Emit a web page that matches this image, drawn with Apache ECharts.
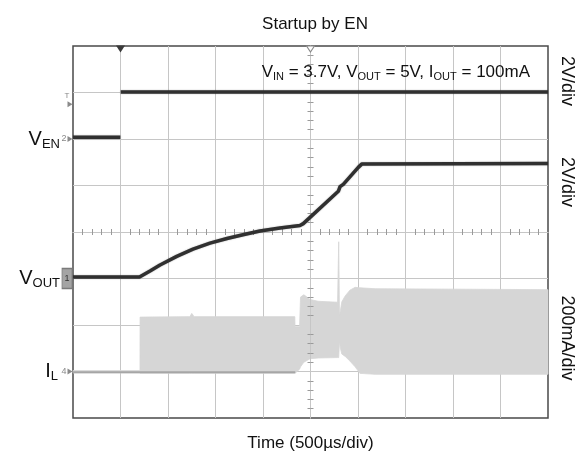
<!DOCTYPE html>
<html>
<head>
<meta charset="utf-8">
<script src="https://cdn.jsdelivr.net/npm/echarts@6/dist/echarts.min.js"></script>
<style>
  html, body { margin: 0; padding: 0; background: #ffffff; }
  #chart { width: 587px; height: 465px; }
</style>
</head>
<body>
<div id="chart"></div>
<script>
// Scope capture: 10 horizontal divisions of 500 µs, 8 vertical divisions.
const timeMin = 0;
const timeMax = 5000;      // µs
const timeDiv = 500;       // µs per division

// EN channel (2 V/div)
const enTime  = [0, 498, 499, 503, 5000];
const enVolts = [0.08, 0.08, null, 2.02, 2.02];

// VOUT channel (2 V/div)
const voutTime  = [0, 700, 811, 916, 1092, 1263, 1442, 1621, 1789, 1968, 2179, 2389, 2424, 2793, 2811, 2845, 3003, 3039, 5000];
const voutVolts = [0.06, 0.06, 0.32, 0.58, 0.95, 1.26, 1.52, 1.72, 1.88, 2.04, 2.17, 2.28, 2.36, 3.75, 3.95, 4.05, 4.78, 4.92, 4.95];

// Inductor current envelope (200 mA/div)
const ilTime  = [0, 705, 706, 1230, 1250, 1275, 2335, 2337, 2385, 2395, 2430, 2495, 2580, 2785, 2797, 2805, 2815, 2830, 2865, 2915, 2970, 3020, 3180, 5000];
const ilUpper = [4, 4, 234, 236, 250, 236, 236, 193, 193, 320, 330, 310, 302, 298, 558, 240, 262, 300, 325, 350, 362, 360, 356, 352];
const ilLower = [-6, -6, -8, -8, -8, -8, -8, -8, 10, 20, 40, 55, 58, 60, 60, 130, 100, 75, 65, 45, 20, -8, -12, -12];

// Inductor current baseline trace before switching settles
const ilBaseTime = [0, 2340];
const ilBaseVal  = [-3, -3];

// Channel scales: [min, max] of each trace axis, offset so grounds sit on their own division
const enRange   = [-12, 4];
const voutRange = [-6, 10];
const ilRange   = [-200, 1400];

const FONT = '"Liberation Sans", Arial, sans-serif';
const gridColor = '#c6c6c6';
const traceColor = '#303030';
const bandColor = '#d6d6d6';

const pairs = (xs, ys) => xs.map((x, i) => [x, ys[i] === null ? '-' : ys[i]]);

const subRich = (main, sub) => ({
  v: { fontSize: main, fontFamily: FONT, fontWeight: 'normal', color: '#111', lineHeight: main + 3, verticalAlign: 'middle' },
  s: { fontSize: sub, fontFamily: FONT, fontWeight: 'normal', color: '#111', lineHeight: sub, verticalAlign: 'bottom' },
  t: { fontSize: main, fontFamily: FONT, fontWeight: 'normal', color: '#111', lineHeight: main + 3, verticalAlign: 'middle' }
});

const nameLabel = (text, dist) => ({
  coord: [timeMin, 0],
  symbol: 'circle',
  symbolSize: 0,
  label: {
    show: true, position: 'left', distance: dist,
    formatter: text, rich: subRich(20, 13)
  }
});

const chMarker = (num, boxed) => ({
  coord: [timeMin, 0],
  symbol: boxed ? 'rect' : 'triangle',
  symbolRotate: boxed ? 0 : -90,
  symbolSize: boxed ? [10, 20] : [6, 5],
  symbolOffset: boxed ? [-6, 0] : [-3, 0],
  itemStyle: boxed ? { color: '#a4a4a4', borderColor: '#7a7a7a', borderWidth: 1 } : { color: '#8a8a8a' },
  label: {
    show: true, position: boxed ? 'inside' : 'left', distance: 1,
    formatter: String(num), fontSize: 9, fontFamily: FONT, color: boxed ? '#333' : '#888'
  }
});

const chart = echarts.init(document.getElementById('chart'), null, { renderer: 'canvas' });

// Graticule centre lines carry fine sub-division ticks on both sides
const centerX = (inside) => ({
  type: 'value', min: -5, max: 5, interval: 1, z: 4,
  axisLine: { show: true, onZero: true, onZeroAxisIndex: 0, lineStyle: { color: gridColor, width: 1 } },
  axisTick: { show: false, inside: inside },
  minorTick: { show: true, splitNumber: 5, length: 3, lineStyle: { color: '#9a9a9a', width: 1 } },
  axisLabel: { show: false },
  splitLine: { show: false }
});
const centerY = (inside) => ({
  type: 'value', min: -4, max: 4, interval: 1, z: 4,
  axisLine: { show: true, onZero: true, onZeroAxisIndex: 1, lineStyle: { color: gridColor, width: 1 } },
  axisTick: { show: false, inside: inside },
  minorTick: { show: true, splitNumber: 5, length: 3, lineStyle: { color: '#9a9a9a', width: 1 } },
  axisLabel: { show: false },
  splitLine: { show: false }
});

const traceStyle = { width: 3.5, color: traceColor, shadowColor: 'rgba(0,0,0,0.35)', shadowBlur: 1.5 };

chart.setOption({
  animation: false,
  backgroundColor: '#ffffff',
  title: [
    {
      text: 'Startup by EN',
      left: 310, top: 11, textAlign: 'center',
      textStyle: { fontSize: 17, fontWeight: 'normal', fontFamily: FONT, color: '#111' }
    },
    {
      text: '{v|V}{s|IN}{t| = 3.7V, V}{s|OUT}{t| = 5V, I}{s|OUT}{t| = 100mA}',
      right: 52, top: 57,
      textStyle: { fontWeight: 'normal', rich: subRich(17, 11) }
    }
  ],
  grid: {
    left: 73, top: 46, width: 475, height: 372,
    show: true, borderColor: '#4a4a4a', borderWidth: 1.5,
    backgroundColor: 'transparent'
  },
  xAxis: [
    {
      type: 'value', min: timeMin, max: timeMax, interval: timeDiv,
      axisLine: { show: false, onZero: false },
      axisTick: { show: false },
      axisLabel: { show: false },
      splitLine: { show: true, showMinLine: false, showMaxLine: false, lineStyle: { color: gridColor, width: 1 } },
      name: 'Time (500µs/div)',
      nameLocation: 'middle', nameGap: 17,
      nameTextStyle: { fontSize: 17, fontFamily: FONT, color: '#111', verticalAlign: 'top' }
    },
    centerX(false),
    centerX(true)
  ],
  yAxis: [
    {
      type: 'value', min: -4, max: 4, interval: 1,
      axisLine: { show: false, onZero: false },
      axisTick: { show: false },
      axisLabel: { show: false },
      splitLine: { show: true, showMinLine: false, showMaxLine: false, lineStyle: { color: gridColor, width: 1 } }
    },
    { type: 'value', min: enRange[0], max: enRange[1], show: false, axisLine: { onZero: false } },
    { type: 'value', min: voutRange[0], max: voutRange[1], show: false, axisLine: { onZero: false } },
    { type: 'value', min: ilRange[0], max: ilRange[1], show: false, axisLine: { onZero: false } },
    centerY(false),
    centerY(true)
  ],
  series: [
    {
      // switching ripple envelope of the inductor current, filled between its lower and upper bounds
      name: 'IL', type: 'custom', xAxisIndex: 0, yAxisIndex: 3,
      data: ilTime.map((t, i) => [t, ilLower[i], ilUpper[i]]),
      encode: { x: 0, y: [1, 2] },
      silent: true,
      z: 3,
      renderItem: (params, api) => {
        if (params.dataIndex !== 0) return null;
        const top = ilTime.map((t, i) => api.coord([t, ilUpper[i]]));
        const bottom = ilTime.map((t, i) => api.coord([t, ilLower[i]])).reverse();
        return {
          type: 'polygon',
          shape: { points: top.concat(bottom) },
          style: { fill: bandColor, stroke: bandColor, lineWidth: 0.8 }
        };
      },
      markPoint: {
        silent: true,
        data: [ chMarker(4, false), nameLabel('{v|I}{s|L}', 15) ]
      }
    },
    {
      name: 'IL base', type: 'line', xAxisIndex: 0, yAxisIndex: 3,
      data: pairs(ilBaseTime, ilBaseVal),
      symbol: 'none', silent: true,
      lineStyle: { width: 2, color: '#a6a6a6' },
      z: 4
    },
    {
      name: 'VOUT', type: 'line', xAxisIndex: 0, yAxisIndex: 2,
      data: pairs(voutTime, voutVolts),
      symbol: 'none', silent: true,
      lineStyle: traceStyle,
      z: 5,
      markPoint: {
        silent: true,
        data: [ chMarker(1, true), nameLabel('{v|V}{s|OUT}', 13) ]
      }
    },
    {
      name: 'EN', type: 'line', xAxisIndex: 0, yAxisIndex: 1,
      data: pairs(enTime, enVolts),
      connectNulls: false,
      symbol: 'none', silent: true,
      lineStyle: traceStyle,
      z: 5,
      markPoint: {
        silent: true,
        data: [
          chMarker(2, false),
          nameLabel('{v|V}{s|EN}', 13),
          {
            coord: [timeMin, 1.5], symbol: 'triangle', symbolRotate: -90,
            symbolSize: [6, 5], symbolOffset: [-3, 0],
            itemStyle: { color: '#8a8a8a' },
            label: { show: true, position: 'top', distance: 1, offset: [-3, 0], formatter: 'T', fontSize: 8, fontFamily: FONT, color: '#888' }
          },
          {
            coord: [timeDiv, enRange[1]], symbol: 'triangle', symbolRotate: 180,
            symbolSize: [9, 7], symbolOffset: [0, 3],
            itemStyle: { color: '#3a3a3a' }, label: { show: false }
          },
          {
            coord: [(timeMin + timeMax) / 2, enRange[1]], symbol: 'triangle', symbolRotate: 180,
            symbolSize: [8, 6], symbolOffset: [0, 3],
            itemStyle: { color: '#ffffff', borderColor: '#8a8a8a', borderWidth: 1 }, label: { show: false }
          }
        ]
      }
    }
  ],
  graphic: [
    { type: 'text', x: 567, y: 81, rotation: -Math.PI / 2,
      style: { text: '2V/div', font: '18px ' + FONT, fill: '#111', align: 'center', verticalAlign: 'middle' } },
    { type: 'text', x: 567, y: 182, rotation: -Math.PI / 2,
      style: { text: '2V/div', font: '18px ' + FONT, fill: '#111', align: 'center', verticalAlign: 'middle' } },
    { type: 'text', x: 567, y: 338, rotation: -Math.PI / 2,
      style: { text: '200mA/div', font: '18px ' + FONT, fill: '#111', align: 'center', verticalAlign: 'middle' } }
  ]
});
</script>
</body>
</html>
